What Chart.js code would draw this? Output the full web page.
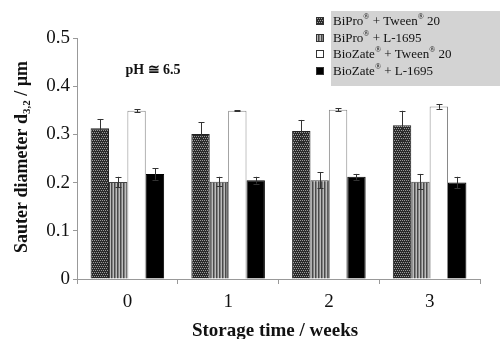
<!DOCTYPE html>
<html>
<head>
<meta charset="utf-8">
<script src="https://cdn.jsdelivr.net/npm/chart.js@4/dist/chart.umd.min.js"></script>
<style>
  body { margin: 0; background: #fff; }
  #wrap { width: 500px; height: 339px; }
</style>
</head>
<body>
<div id="wrap"><canvas id="sauter" width="500" height="339"></canvas></div>
<script>
// storage weeks
var weeks = ['0', '1', '2', '3'];
var yTicks = [0, 0.1, 0.2, 0.3, 0.4, 0.5];

var bipTween = [0.313, 0.301, 0.307, 0.319];
var bipTweenErr = [0.019, 0.024, 0.023, 0.030];
var bipL = [0.201, 0.202, 0.205, 0.202];
var bipLErr = [0.011, 0.010, 0.017, 0.016];
var bioTween = [0.349, 0.349, 0.351, 0.358];
var bioTweenErr = [0.003, 0.001, 0.003, 0.005];
var bioL = [0.218, 0.205, 0.212, 0.200];
var bioLErr = [0.012, 0.007, 0.006, 0.012];

function makePattern(kind) {
  var c = document.createElement('canvas');
  var p = c.getContext('2d');
  if (kind === 'dots') {
    c.width = 4; c.height = 4;
    p.fillStyle = '#2a2a2a'; p.fillRect(0, 0, 4, 4);
    p.fillStyle = '#9a9a9a';
    p.fillRect(0, 0, 1, 1); p.fillRect(2, 0, 1, 1);
    p.fillRect(1, 2, 1, 1); p.fillRect(3, 2, 1, 1);
  } else {
    c.width = 3; c.height = 2;
    p.fillStyle = '#bdbdbd'; p.fillRect(0, 0, 3, 2);
    p.fillStyle = '#4a4a4a'; p.fillRect(0, 0, 1.5, 2);
  }
  return p.createPattern(c, 'repeat');
}

var ctx = document.getElementById('sauter').getContext('2d');
var dotFill = makePattern('dots');
var stripeFill = makePattern('stripes');

var errors = [bipTweenErr, bipLErr, bioTweenErr, bioLErr];

var errorBars = {
  id: 'errorBars',
  afterDatasetsDraw: function(chart) {
    var c = chart.ctx, y = chart.scales.y;
    c.save();
    c.strokeStyle = '#333';
    c.lineWidth = 1;
    chart.data.datasets.forEach(function(ds, i) {
      var meta = chart.getDatasetMeta(i);
      meta.data.forEach(function(bar, j) {
        var v = ds.data[j], e = errors[i][j];
        var top = y.getPixelForValue(v + e), bot = y.getPixelForValue(v - e);
        var x = Math.round(bar.x) + 0.5;
        c.beginPath();
        c.moveTo(x, top); c.lineTo(x, bot);
        c.moveTo(x - 3, Math.round(top) + 0.5); c.lineTo(x + 3, Math.round(top) + 0.5);
        c.moveTo(x - 3, Math.round(bot) + 0.5); c.lineTo(x + 3, Math.round(bot) + 0.5);
        c.stroke();
      });
    });
    c.restore();
  }
};

var texts = {
  id: 'texts',
  afterDraw: function(chart) {
    var c = chart.ctx;
    c.save();
    c.fillStyle = '#111';

    // y title with subscript
    c.translate(22, 157);
    c.rotate(-Math.PI / 2);
    var big = 'bold 18px "Liberation Serif"', small = 'bold 11px "Liberation Serif"';
    c.font = big;
    var a = 'Sauter diameter d', b = ' / µm';
    var wa = c.measureText(a).width, wb = c.measureText(b).width;
    c.font = small;
    var ws = c.measureText('3,2').width;
    var x0 = -(wa + ws + wb) / 2;
    c.textBaseline = 'middle';
    c.font = big; c.fillText(a, x0, 0);
    c.font = small; c.fillText('3,2', x0 + wa, 5);
    c.font = big; c.fillText(b, x0 + wa + ws, 0);
    c.setTransform(1, 0, 0, 1, 0, 0);

    // x title
    c.textAlign = 'center';
    c.font = 'bold 19px "Liberation Serif"';
    c.fillText('Storage time / weeks', 275, 331);

    // pH note
    c.font = 'bold 14px "Liberation Serif"';
    c.fillText('pH \u2245 6.5', 153, 70);

    // legend
    c.fillStyle = '#d3d3d3';
    c.fillRect(331, 11, 169, 75);
    var labels = [
      ['BiPro', ' + Tween', ' 20'],
      ['BiPro', ' + L-1695'],
      ['BioZate', ' + Tween', ' 20'],
      ['BioZate', ' + L-1695']
    ];
    var fills = [dotFill, stripeFill, '#fff', '#000'];
    var rows = [22, 39, 55, 72];
    c.textAlign = 'left';
    labels.forEach(function(parts, i) {
      var yy = rows[i];
      c.fillStyle = fills[i];
      c.fillRect(316.5, yy - 4.5, 7, 7);
      c.strokeStyle = '#333';
      c.lineWidth = 1;
      c.strokeRect(316.5, yy - 4.5, 7, 7);
      c.fillStyle = '#111';
      var x = 333;
      parts.forEach(function(p, k) {
        c.font = '13px "Liberation Serif"';
        c.fillText(p, x, yy);
        x += c.measureText(p).width;
        if (k < parts.length - 1) {
          c.font = '8px "Liberation Serif"';
          c.fillText('\u00ae', x, yy - 5);
          x += c.measureText('\u00ae').width;
        }
      });
    });
    c.restore();
  }
};

new Chart(ctx, {
  type: 'bar',
  data: {
    labels: weeks,
    datasets: [
      { label: 'BiPro® + Tween® 20', data: bipTween, backgroundColor: dotFill, borderColor: '#222', borderWidth: 1 },
      { label: 'BiPro® + L-1695', data: bipL, backgroundColor: stripeFill, borderColor: '#444', borderWidth: 1 },
      { label: 'BioZate® + Tween® 20', data: bioTween, backgroundColor: '#fff', borderColor: '#888', borderWidth: 1 },
      { label: 'BioZate® + L-1695', data: bioL, backgroundColor: '#000', borderColor: '#000', borderWidth: 1 }
    ]
  },
  options: {
    responsive: false,
    animation: false,
    categoryPercentage: 0.73,
    barPercentage: 1.0,
    layout: { padding: { top: 38, right: 20, left: 0, bottom: 0 } },
    plugins: {
      legend: { display: false },
      tooltip: { enabled: false }
    },
    scales: {
      x: {
        grid: { drawOnChartArea: false, tickLength: 5, color: '#999', offset: true },
        border: { color: '#999' },
        ticks: { color: '#111', padding: 7, font: { family: 'Liberation Serif', size: 19 } },
        afterFit: function(scale) { scale.height = 60; }
      },
      y: {
        min: 0,
        max: 0.5,
        grid: { drawOnChartArea: false, tickLength: 4, color: '#999' },
        border: { color: '#999' },
        afterBuildTicks: function(scale) {
          scale.ticks = yTicks.map(function(v) { return { value: v }; });
        },
        ticks: {
          color: '#111', padding: 3,
          font: { family: 'Liberation Serif', size: 19 },
          callback: function(v) { return String(v); }
        },
        afterFit: function(scale) { scale.width = 77; }
      }
    }
  },
  plugins: [errorBars, texts]
});
</script>
</body>
</html>
